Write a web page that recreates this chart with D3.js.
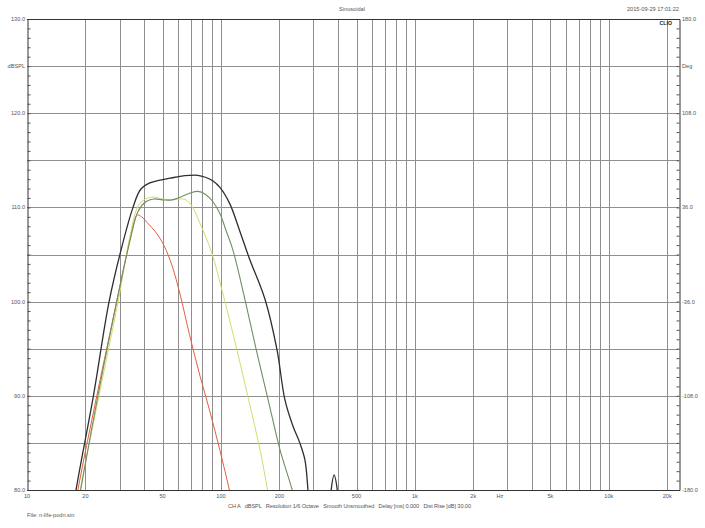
<!DOCTYPE html>
<html>
<head>
<meta charset="utf-8">
<script src="https://cdn.jsdelivr.net/npm/d3@7"></script>
<style>
  html, body { margin: 0; padding: 0; background: #fff; }
  svg { display: block; }
  text { font-family: "Liberation Sans", Arial, sans-serif; fill: #555; }
</style>
</head>
<body>
<svg id="chart" width="705" height="528"></svg>
<script>
// ---- data ----
const xTickLabels = ["10", "20", "50", "100", "200", "500", "1k", "2k", "5k", "10k", "20k"];
const xTickValues = [10, 20, 50, 100, 200, 500, 1000, 2000, 5000, 10000, 20000];
const yTickValues = [80, 90, 100, 110, 120, 130];
const yTickLabels = ["80.0", "90.0", "100.0", "110.0", "120.0", "130.0"];
const phaseTickValues = [-180, -108, -36, 36, 108, 180];
const phaseTickLabels = ["-180.0", "-108.0", "-36.0", "36.0", "108.0", "180.0"];

const totalFreq = [16.5, 17.9, 22, 26.5, 31, 35.2, 38.5, 43, 48.5, 54.7, 61.5, 69, 76, 83, 91, 99, 111, 125, 140, 169, 194.5, 213.6, 235, 255, 271, 281, 295, 330, 360, 370, 383, 398, 410];
const totalSpl  = [75, 80, 90, 100, 106, 110, 111.9, 112.6, 112.9, 113.1, 113.3, 113.4, 113.4, 113.2, 112.8, 112.1, 110.4, 107.5, 104.6, 100.2, 94.9, 89.6, 86.8, 85.0, 83.2, 80, 74, 72, 76, 80, 81.6, 80, 75];

const greenFreq = [17.5, 18.9, 23.2, 29, 34, 37.4, 41, 45, 50, 56, 62, 69, 76, 83, 91, 99, 106, 115.2, 133, 152, 175, 202, 233, 260];
const greenSpl  = [76, 80, 90, 100, 106.5, 109.6, 110.6, 110.9, 110.8, 110.8, 111.1, 111.5, 111.7, 111.4, 110.6, 109.3, 107.6, 105.5, 100.2, 94.9, 89.6, 84.2, 80, 76];

const yellowFreq = [17.5, 18.8, 23.5, 29.5, 34, 37.5, 41, 45, 50, 56, 62, 66, 71, 78, 89.6, 101, 120.8, 138.8, 159.3, 174, 190];
const yellowSpl  = [76, 80, 90, 100, 107, 110.2, 110.9, 111.1, 110.9, 110.8, 110.9, 110.8, 110.1, 108.3, 105.2, 101.3, 94.9, 89.6, 84.2, 80, 76];

const redFreq = [17, 18.3, 22.9, 29, 33, 35.5, 37, 39, 42, 46, 51, 56, 61.5, 69, 78, 87.8, 98.8, 110.6, 122];
const redSpl  = [76, 80, 90, 100, 105.5, 108.3, 109.2, 109.0, 108.3, 107.4, 105.9, 103.8, 100.8, 96.4, 92.1, 88.3, 84.2, 80, 76];

const series = [
  { f: redFreq, v: redSpl, color: "#e2603c", w: 1 },
  { f: yellowFreq, v: yellowSpl, color: "#d2dc6e", w: 1 },
  { f: greenFreq, v: greenSpl, color: "#6f8f62", w: 1.1 },
  { f: totalFreq, v: totalSpl, color: "#2e2e2e", w: 1.3 }
];

// ---- layout ----
const svg = d3.select("#chart");
const L = 27, R = 679, T = 19, B = 490;
const x = d3.scaleLog().domain([10, 23000]).range([L, R]);
const y = d3.scaleLinear().domain([80, 130]).range([B, T]);
const yPhase = d3.scaleLinear().domain([-180, 180]).range([B, T]);

svg.append("defs").append("clipPath").attr("id", "plotclip")
  .append("rect").attr("x", L).attr("y", T).attr("width", R - L).attr("height", B - T);

// vertical grid
const vGrid = [];
[10, 100, 1000, 10000].forEach(d => { for (let k = 1; k <= 9; k++) { const v = d * k; if (v > 10 && v <= 20000) vGrid.push(v); } });
svg.append("g").selectAll("line").data(vGrid).join("line")
  .attr("x1", d => Math.round(x(d)) + 0.5).attr("x2", d => Math.round(x(d)) + 0.5)
  .attr("y1", T).attr("y2", B)
  .attr("stroke", "#8f8f8f").attr("stroke-width", 1);

// horizontal grid
const hGrid = d3.range(85, 130, 5);
svg.append("g").selectAll("line").data(hGrid).join("line")
  .attr("x1", L).attr("x2", R)
  .attr("y1", d => Math.round(y(d)) + 0.5).attr("y2", d => Math.round(y(d)) + 0.5)
  .attr("stroke", "#8f8f8f").attr("stroke-width", 1);

// left axis (ticks inside)
const leftAxis = d3.axisRight(y).tickValues(d3.range(80, 131, 1)).tickSize(3).tickFormat("");
const gl = svg.append("g").attr("transform", `translate(${L + 0.5},0)`).call(leftAxis);
gl.select(".domain").attr("stroke", "#333");
gl.selectAll(".tick line").attr("stroke", "#555");

// right axis (ticks inside)
const rightAxis = d3.axisLeft(yPhase).tickValues(d3.range(-180, 180.1, 7.2)).tickSize(3).tickFormat("");
const gr = svg.append("g").attr("transform", `translate(${R + 0.5},0)`).call(rightAxis);
gr.select(".domain").attr("stroke", "#333");
gr.selectAll(".tick line").attr("stroke", "#555");

svg.append("line").attr("x1", L).attr("x2", R + 1).attr("y1", T + 0.5).attr("y2", T + 0.5).attr("stroke", "#333");
svg.append("line").attr("x1", L).attr("x2", R + 1).attr("y1", B + 0.5).attr("y2", B + 0.5).attr("stroke", "#333");

// curves
const line = d3.line().x(d => x(d[0])).y(d => y(d[1])).curve(d3.curveCatmullRom.alpha(0.5));
const gc = svg.append("g").attr("clip-path", "url(#plotclip)");
series.forEach(s => {
  const pts = s.f.map((f, i) => [f, s.v[i]]);
  gc.append("path").attr("d", line(pts)).attr("fill", "none")
    .attr("stroke", s.color).attr("stroke-width", s.w).attr("stroke-linejoin", "round");
});

// left labels
const fs = 5.6;
svg.append("g").selectAll("text").data(yTickValues).join("text")
  .attr("x", 25).attr("y", d => y(d) + 2).attr("text-anchor", "end")
  .attr("font-size", fs).text((d, i) => yTickLabels[i]);
svg.append("text").attr("x", 25).attr("y", y(125) + 2).attr("text-anchor", "end").attr("font-size", fs).text("dBSPL");

// right labels
svg.append("g").selectAll("text").data(phaseTickValues).join("text")
  .attr("x", 682).attr("y", d => yPhase(d) + 2).attr("text-anchor", "start")
  .attr("font-size", fs).text((d, i) => phaseTickLabels[i]);
svg.append("text").attr("x", 682).attr("y", y(125) + 2).attr("font-size", fs).text("Deg");

// bottom labels
svg.append("g").selectAll("text").data(xTickValues).join("text")
  .attr("x", d => x(d)).attr("y", 498).attr("text-anchor", "middle")
  .attr("font-size", fs).text((d, i) => xTickLabels[i]);
svg.append("text").attr("x", 500).attr("y", 498).attr("text-anchor", "middle").attr("font-size", fs).text("Hz");

// header
svg.append("text").attr("x", 352).attr("y", 11).attr("text-anchor", "middle").attr("font-size", fs).text("Sinusoidal");
svg.append("text").attr("x", 627).attr("y", 11).attr("font-size", fs).style("white-space", "pre").text("2015-09-29 17:01:22");
svg.append("text").attr("x", 672).attr("y", 25).attr("text-anchor", "end").attr("font-size", 5.2)
  .attr("font-weight", "bold").style("fill", "#222").text("CLIO");

// footer
svg.append("text").attr("x", 228).attr("y", 508).attr("font-size", fs).attr("textLength", 243)
  .style("white-space", "pre")
  .text("CH A   dBSPL   Resolution 1/6 Octave   Smooth Unsmoothed   Delay [ms] 0.000   Dist Rise [dB] 30.00");
svg.append("text").attr("x", 27).attr("y", 517).attr("font-size", fs).text("File: n-life-podn.sin");
</script>
</body>
</html>
